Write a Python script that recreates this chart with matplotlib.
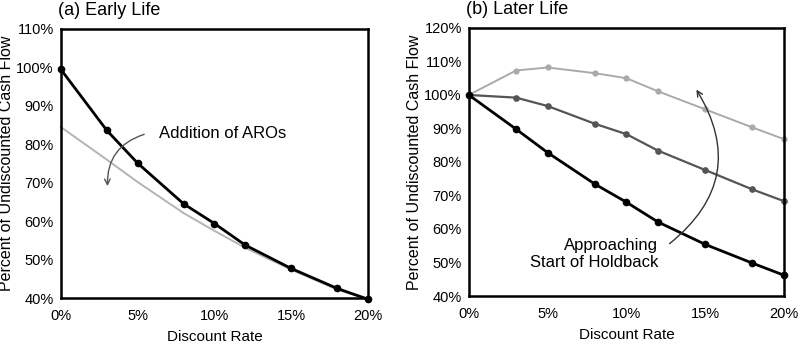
import matplotlib
matplotlib.use("Agg")
import matplotlib.pyplot as plt
from matplotlib.ticker import FuncFormatter

plt.rcParams['font.family'] = ['Liberation Sans', 'DejaVu Sans']

# discount rates (%)
rates = [0, 3, 5, 8, 10, 12, 15, 18, 20]

# (a) early life
early_base = [99.5, 83.6, 75.1, 64.5, 59.4, 53.8, 47.7, 42.5, 39.7]
early_aro = [84.5, 76.0, 70.2, 62.1, 57.5, 53.1, 47.4, 42.2, 39.7]

# (b) later life
later_far = [100.0, 89.8, 82.8, 73.4, 68.0, 62.1, 55.4, 49.8, 46.2]
later_mid = [100.0, 99.2, 96.7, 91.4, 88.3, 83.4, 77.6, 71.8, 68.3]
later_near = [100.0, 107.3, 108.2, 106.5, 105.0, 101.1, 95.7, 90.3, 86.8]

x_ticks = [0, 5, 10, 15, 20]
pct = FuncFormatter(lambda v, p: "{:.0f}%".format(v))

fig = plt.figure(figsize=(8, 3.45), dpi=100)
ax1 = fig.add_axes([0.076, 0.136, 0.384, 0.780])
ax2 = fig.add_axes([0.586, 0.142, 0.394, 0.777])

def style(ax, ylo, yhi, title):
    ax.set_xlim(0, 20)
    ax.set_ylim(ylo, yhi)
    ax.set_xticks(x_ticks)
    ax.set_yticks(range(ylo, yhi + 1, 10))
    ax.xaxis.set_major_formatter(pct)
    ax.yaxis.set_major_formatter(pct)
    ax.tick_params(length=0, labelsize=10.5)
    ax.tick_params(axis="x", pad=8)
    ax.tick_params(axis="y", pad=5)
    for s in ax.spines.values():
        s.set_linewidth(1.8)
    ax.set_xlabel("Discount Rate", fontsize=11, labelpad=5)
    ax.set_ylabel("Percent of Undiscounted Cash Flow", fontsize=11.5, labelpad=2)
    ax.set_title(title, fontsize=13, loc="left", x=-0.01, pad=10)

# panel a
ax1.plot(rates, early_aro, color="#b4b4b4", lw=1.4, clip_on=False)
ax1.plot(rates, early_base, color="black", lw=2.0, marker="o", ms=4.5, clip_on=False, zorder=3)
ax1.annotate("", xy=(3.05, 68.4), xytext=(5.6, 82.8),
             arrowprops=dict(arrowstyle="->", color="#555555", lw=1.0,
                             connectionstyle="arc3,rad=0.4"))
ax1.text(6.4, 82.9, "Addition of AROs", fontsize=12, va="center", ha="left")
style(ax1, 40, 110, "(a) Early Life")

# panel b
ax2.plot(rates, later_near, color="#aaaaaa", lw=1.4, marker="o", ms=3.5, clip_on=False)
ax2.plot(rates, later_mid, color="#555555", lw=1.6, marker="o", ms=3.8, clip_on=False)
ax2.plot(rates, later_far, color="black", lw=2.0, marker="o", ms=4.5, clip_on=False, zorder=3)
ax2.annotate("", xy=(14.35, 102.3), xytext=(12.6, 55.1),
             arrowprops=dict(arrowstyle="->", color="#333333", lw=1.0,
                             connectionstyle="arc3,rad=0.45"))
ax2.text(12.0, 52.6, "Approaching\nStart of Holdback", fontsize=12,
         ha="right", va="center", multialignment="right", linespacing=1.2)
style(ax2, 40, 120, "(b) Later Life")

fig.savefig("out.png", dpi=100)
